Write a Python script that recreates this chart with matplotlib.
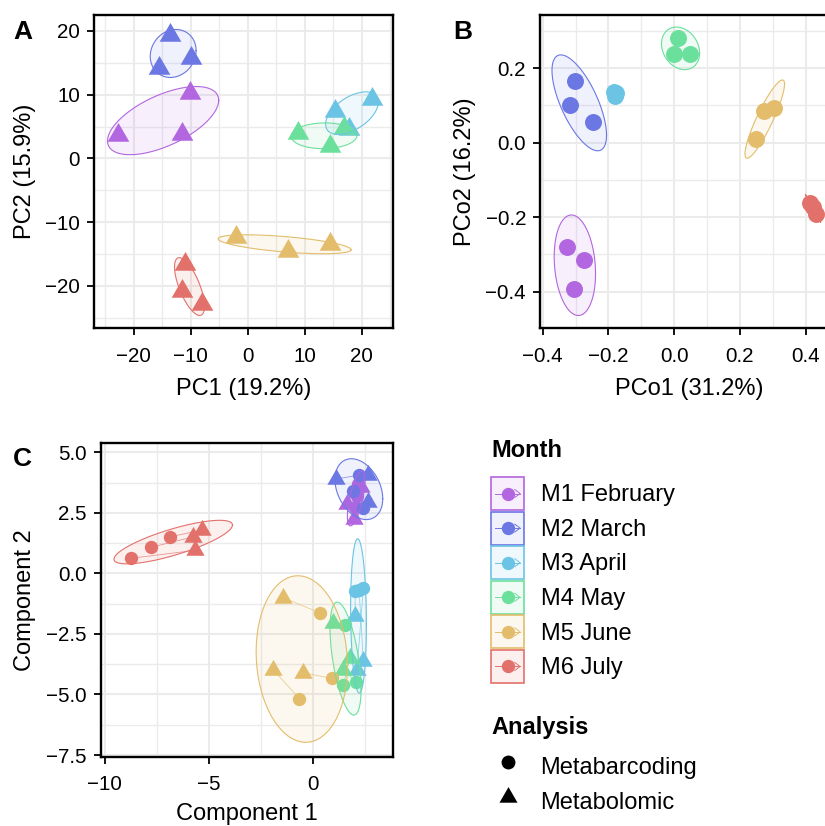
import numpy as np
import matplotlib
matplotlib.use("Agg")
import matplotlib.pyplot as plt
from matplotlib.patches import Rectangle
from matplotlib.lines import Line2D
from matplotlib.legend_handler import HandlerBase
from matplotlib.ticker import MultipleLocator, FuncFormatter

plt.rcParams['font.family'] = ['Liberation Sans', 'DejaVu Sans']

months = ["M1 February", "M2 March", "M3 April", "M4 May", "M5 June", "M6 July"]
colors = ["#B266E0", "#6B77E3", "#6BC4E3", "#6BE09C", "#E3BD6B", "#E3716B"]

# A: PCA, metabolomic samples (3 per month)
pca_x = [[-22.8, -10.2, -11.6], [-13.7, -15.6, -10.0], [15.3, 21.8, 17.8],
         [8.9, 14.4, 16.9], [-2.1, 7.1, 14.4], [-11.1, -11.5, -8.1]]
pca_y = [[3.7, 10.3, 3.8], [19.4, 14.2, 15.8], [7.4, 9.3, 4.6],
         [4.0, 1.95, 4.7], [-12.4, -14.5, -13.5], [-16.6, -20.8, -22.9]]

# B: PCoA, metabarcoding samples
pcoa_x = [[-0.327, -0.273, -0.306], [-0.302, -0.316, -0.248], [-0.183, -0.176, -0.179],
          [0.013, -0.002, 0.047], [0.274, 0.302, 0.250], [0.412, 0.421, 0.432]]
pcoa_y = [[-0.280, -0.314, -0.394], [0.166, 0.100, 0.055], [0.137, 0.133, 0.125],
          [0.282, 0.239, 0.239], [0.085, 0.094, 0.011], [-0.161, -0.174, -0.193]]

# C: procrustes, circle = metabarcoding, triangle = metabolomic
bar_x = [[2.15, 2.10, 2.00], [2.20, 1.90, 2.40], [2.00, 2.20, 2.40],
         [1.52, 1.44, 2.05], [0.32, 0.91, -0.67], [-8.77, -7.81, -6.88]]
bar_y = [[3.70, 3.20, 2.75], [4.05, 3.40, 2.70], [-0.72, -0.68, -0.62],
         [-2.14, -4.62, -4.48], [-1.63, -4.34, -5.17], [0.62, 1.07, 1.51]]
bol_x = [[1.60, 1.95, 2.30], [1.10, 2.65, 2.65], [2.02, 2.40, 2.10],
         [0.96, 1.76, 1.44], [-1.47, -0.51, -1.92], [-5.68, -5.79, -5.36]]
bol_y = [[2.85, 2.25, 3.55], [3.90, 4.05, 2.95], [-1.75, -3.60, -4.00],
         [-2.03, -3.48, -4.00], [-1.00, -4.10, -3.98], [0.95, 1.50, 1.78]]

tri = [(0, 1), (-0.866, -0.5), (0.866, -0.5), (0, 1)]  # centroid-centred triangle


def cov_trob(X, nu=5, maxit=25, tol=0.01):
    n, p = X.shape
    wt = np.ones(n)
    loc = X.mean(0)
    w = np.sqrt(wt)
    for _ in range(maxit):
        w0 = w
        Xc = X - loc
        _, d, vt = np.linalg.svd(np.sqrt(w / w.sum())[:, None] * Xc, full_matrices=False)
        wX = Xc @ vt.T / d
        Q = (wX ** 2).sum(1)
        w = wt * (nu + p) / (nu + Q)
        loc = (w[:, None] * X).sum(0) / w.sum()
        if np.all(np.abs(w - w0) < tol):
            break
    S = np.sqrt(w)[:, None] * Xc
    return loc, S.T @ S / wt.sum()


def ellipse(x, y, level):
    X = np.column_stack([x, y])
    d = len(X) - 1
    center, shape = cov_trob(X)
    chol = np.linalg.cholesky(shape).T
    qf = d / 2 * ((1 - level) ** (-2 / d) - 1)
    ang = np.linspace(0, 2 * np.pi, 61)
    circ = np.column_stack([np.cos(ang), np.sin(ang)])
    e = center + np.sqrt(2 * qf) * circ @ chol
    return e[:, 0], e[:, 1]


def draw_ellipse(ax, x, y, c, level):
    ex, ey = ellipse(x, y, level)
    ax.fill(ex, ey, facecolor=c, alpha=0.1, edgecolor="none", zorder=3)
    ax.plot(ex, ey, color=c, lw=0.8, zorder=3)


def minus(fmt):
    return FuncFormatter(lambda v, p: fmt.format(v).replace("-", "\u2212"))


def style(ax, xmaj, ymaj, xfmt="{:g}", yfmt="{:g}"):
    ax.xaxis.set_major_locator(MultipleLocator(xmaj))
    ax.xaxis.set_minor_locator(MultipleLocator(xmaj / 2))
    ax.yaxis.set_major_locator(MultipleLocator(ymaj))
    ax.yaxis.set_minor_locator(MultipleLocator(ymaj / 2))
    ax.xaxis.set_major_formatter(minus(xfmt))
    ax.yaxis.set_major_formatter(minus(yfmt))
    ax.set_axisbelow(True)
    ax.grid(which="major", color="#EBEBEB", lw=1.5)
    ax.grid(which="minor", color="#EBEBEB", lw=1.0)
    ax.tick_params(which="major", direction="out", length=5, width=1.3,
                   labelsize=14.8, colors="black")
    ax.tick_params(axis="x", pad=8.5)
    ax.tick_params(axis="y", pad=5)
    ax.tick_params(which="minor", length=0)
    for s in ax.spines.values():
        s.set_linewidth(1.7)
        s.set_color("black")


fig = plt.figure(figsize=(8.25, 8.26), dpi=100)
W, H = 825, 826


def px_axes(l, t, r, b):
    return fig.add_axes([l / W, 1 - b / H, (r - l) / W, (b - t) / H])


# panel A
axA = px_axes(94, 15, 393, 328)
for i, c in enumerate(colors):
    axA.plot(pca_x[i], pca_y[i], ls="none", marker=tri, ms=18, color=c, mew=0, zorder=2)
    draw_ellipse(axA, pca_x[i], pca_y[i], c, 0.6)
axA.set_xlim(-27.0, 25.5)
axA.set_ylim(-26.6, 22.5)
style(axA, 10, 10)
axA.set_xlabel("PC1 (19.2%)", fontsize=17, labelpad=9)
axA.set_ylabel("PC2 (15.9%)", fontsize=17, labelpad=7)

# panel B (runs past the right edge of the figure)
axB = px_axes(540, 15, 839, 328)
for i, c in enumerate(colors):
    axB.plot(pcoa_x[i], pcoa_y[i], ls="none", marker="o", ms=12.2, color=c, mew=0, zorder=2)
    draw_ellipse(axB, pcoa_x[i], pcoa_y[i], c, 0.8)
axB.set_xlim(-0.408, 0.501)
axB.set_ylim(-0.498, 0.343)
style(axB, 0.2, 0.2, "{:.1f}", "{:.1f}")
axB.set_xlabel("PCo1 (31.2%)", fontsize=17, labelpad=9)
axB.set_ylabel("PCo2 (16.2%)", fontsize=17, labelpad=7)

# panel C
axC = px_axes(100.7, 443.3, 393.3, 756.7)
for i, c in enumerate(colors):
    for j in range(3):
        axC.annotate("", xy=(bar_x[i][j], bar_y[i][j]), xytext=(bol_x[i][j], bol_y[i][j]),
                     arrowprops=dict(arrowstyle="->", color=c, lw=0.6, alpha=0.7,
                                     shrinkA=0, shrinkB=0, mutation_scale=6), zorder=1)
    axC.plot(bar_x[i], bar_y[i], ls="none", marker="o", ms=9.6, color=c, mew=0, zorder=2)
    axC.plot(bol_x[i], bol_y[i], ls="none", marker=tri, ms=15.2, color=c, mew=0, zorder=2)
    draw_ellipse(axC, bar_x[i] + bol_x[i], bar_y[i] + bol_y[i], c, 0.85)
axC.set_xlim(-10.2, 3.84)
axC.set_ylim(-7.57, 5.37)
style(axC, 5, 2.5, "{:g}", "{:.1f}")
axC.set_xlabel("Component 1", fontsize=17, labelpad=6)
axC.set_ylabel("Component 2", fontsize=17, labelpad=7)

for lab, x, y in [("A", 13, 20), ("B", 453, 20), ("C", 13, 447)]:
    fig.text(x / W, 1 - y / H, lab, fontsize=19, fontweight="bold", ha="left", va="top")


class MonthKey(HandlerBase):
    def create_artists(self, legend, orig, xd, yd, w, h, fontsize, trans):
        c = orig.get_color()
        x0, y0 = -xd, -yd
        yc = y0 + h / 2
        box = Rectangle((x0, y0), w, h, facecolor=matplotlib.colors.to_rgba(c, 0.1),
                        edgecolor=c, lw=1.2, transform=trans)
        seg = Line2D([x0 + 0.12 * w, x0 + 0.88 * w], [yc, yc], color=c, lw=0.7, transform=trans)
        head = Line2D([x0 + 0.72 * w, x0 + 0.88 * w, x0 + 0.72 * w],
                      [yc + 0.12 * h, yc, yc - 0.12 * h], color=c, lw=0.7, transform=trans)
        dot = Line2D([x0 + w / 2], [yc], marker="o", ms=9.6, color=c, mew=0, ls="none",
                     transform=trans)
        return [box, seg, head, dot]


fig.text(491 / W, 1 - 457 / H, "Month", fontsize=17, fontweight="bold", va="baseline")
month_handles = [Line2D([], [], color=c) for c in colors]
fig.legend(month_handles, months, loc="upper left", bbox_to_anchor=(491 / W, 1 - 477 / H),
           handler_map={Line2D: MonthKey()}, frameon=False, fontsize=17,
           handlelength=1.4, handleheight=1.777, labelspacing=0.065, handletextpad=0.7,
           borderpad=0, borderaxespad=0)

fig.text(491 / W, 1 - 734 / H, "Analysis", fontsize=17, fontweight="bold", va="baseline")
an_handles = [Line2D([], [], ls="none", marker="o", ms=10, color="black", mew=0),
              Line2D([], [], ls="none", marker=tri, ms=15, color="black", mew=0)]
fig.legend(an_handles, ["Metabarcoding", "Metabolomic"], loc="upper left",
           bbox_to_anchor=(491 / W, 1 - 750 / H), frameon=False, fontsize=17,
           handlelength=1.4, handleheight=1.777, labelspacing=0.08, handletextpad=0.7,
           borderpad=0, borderaxespad=0)

fig.savefig("out.png", dpi=100)
